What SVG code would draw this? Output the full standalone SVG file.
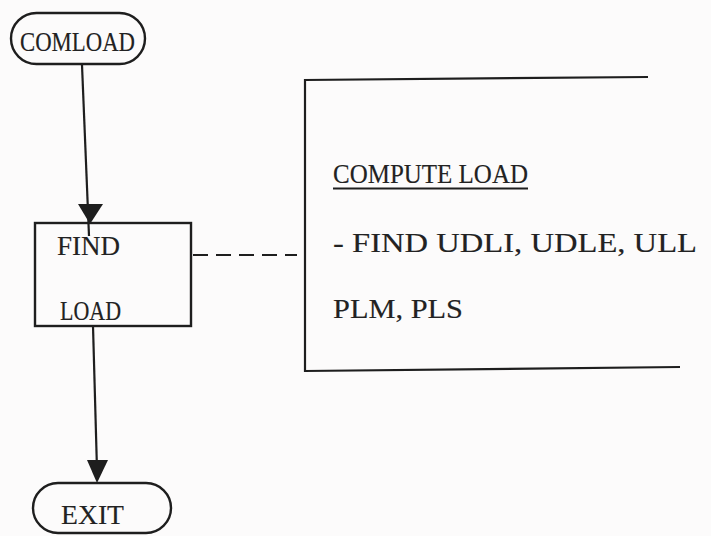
<svg xmlns="http://www.w3.org/2000/svg" width="711" height="536" viewBox="0 0 711 536">
<style>
.ln{stroke:#1e1e1e;stroke-width:2.2;fill:none}
.sh{stroke:#1e1e1e;stroke-width:2.4;fill:none}
.t{font-family:"Liberation Serif","DejaVu Serif",serif;font-size:27px;fill:#222;stroke:#222;stroke-width:0.15}
.ah{fill:#1e1e1e}
</style>
<rect width="711" height="536" fill="#fcfbfb"/>
<g id="connectors">
<line class="ln" x1="82" y1="65" x2="89" y2="236"/>
<polygon class="ah" points="78,204 103,204 90,224"/>
<line class="ln" x1="93" y1="326" x2="97" y2="470"/>
<polygon class="ah" points="87,460 108,460 97,483"/>
<line class="ln" x1="193" y1="255" x2="297" y2="255" stroke-dasharray="15,8"/>
</g>
<g id="comload">
<rect class="sh" x="11" y="13" width="134" height="51" rx="25.5"/>
<text class="t" x="20" y="51" textLength="115" lengthAdjust="spacingAndGlyphs">COMLOAD</text>
</g>
<g id="findload">
<rect class="sh" x="35" y="223" width="156" height="103"/>
<text class="t" x="57" y="255" textLength="63" lengthAdjust="spacingAndGlyphs">FIND</text>
<text class="t" x="60" y="320" textLength="61" lengthAdjust="spacingAndGlyphs">LOAD</text>
</g>
<g id="comment">
<polyline class="ln" points="648,77 305,80 305,371 680,367"/>
<text class="t" x="333" y="183" textLength="195" lengthAdjust="spacingAndGlyphs">COMPUTE LOAD</text>
<line class="ln" x1="333" y1="188.5" x2="528" y2="188.5" stroke-width="1.8"/>
<text class="t" x="333" y="252" textLength="364" lengthAdjust="spacingAndGlyphs">- FIND UDLI, UDLE, ULL</text>
<text class="t" x="333" y="318" textLength="130" lengthAdjust="spacingAndGlyphs">PLM, PLS</text>
</g>
<g id="exit">
<rect class="sh" x="33" y="483" width="138" height="50" rx="25"/>
<text class="t" x="61" y="524" textLength="63" lengthAdjust="spacingAndGlyphs">EXIT</text>
</g>
</svg>
